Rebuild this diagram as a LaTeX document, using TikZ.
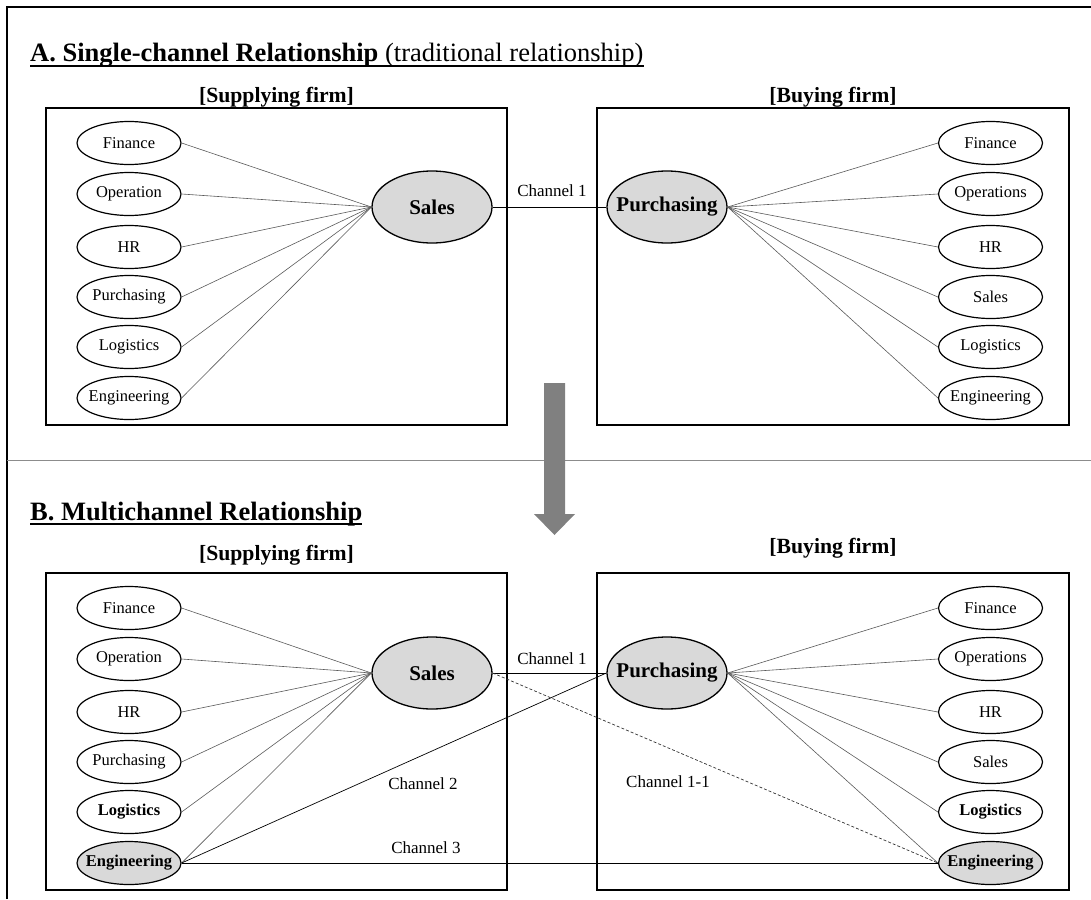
\documentclass[tikz,border=0pt]{standalone}
\usepackage{fontspec}
\setmainfont{Liberation Serif}
\usetikzlibrary{shapes.geometric}

\definecolor{keygray}{HTML}{D9D9D9}
\definecolor{linkgray}{HTML}{595959}
\definecolor{arrowgray}{HTML}{808080}
\definecolor{sepgray}{HTML}{8C8C8C}

\begin{document}
\begin{tikzpicture}[x=1pt,y=-1pt,
  dept/.style={ellipse, draw, line width=1.2pt, fill=white, minimum width=104pt,
    minimum height=43pt, inner xsep=-20pt, inner ysep=0pt, font=\fontsize{16.5}{16.5}\selectfont},
  deptkey/.style={dept, font=\fontsize{16.5}{16.5}\selectfont\bfseries},
  deptfill/.style={deptkey, fill=keygray},
  hub/.style={ellipse, draw, line width=1.3pt, fill=keygray, minimum width=120pt,
    minimum height=72pt, inner xsep=-30pt, inner ysep=0pt, font=\fontsize{21}{21}\selectfont\bfseries},
  firmbox/.style={draw, line width=1.5pt, rectangle, minimum width=461pt, minimum height=317pt, inner sep=0pt},
  firmbox2/.style={firmbox, minimum width=472pt},
  link/.style={draw=linkgray, line width=0.6pt},
  chan/.style={draw=black, line width=0.9pt},
  chandash/.style={draw=black!80, line width=0.7pt, dash pattern=on 3pt off 2pt},
  chanlabel/.style={font=\fontsize{17}{17}\selectfont},
  firmlabel/.style={anchor=base, font=\fontsize{21.7}{21.7}\selectfont\bfseries},
  title/.style={anchor=base west, inner sep=0pt, font=\fontsize{26.5}{26.5}\selectfont},
  ]
\useasboundingbox (0,0) rectangle (1091,899);

% outer frame (left and top edges)
\draw[line width=1.5pt] (7,899) -- (7,7) -- (1091,7);

% ---------- Part A ----------
\node[title] (titleA) at (30,62) {\textbf{A. Single-channel Relationship} (traditional relationship)};
\draw[line width=1.4pt] ([yshift=-4pt]titleA.base west) -- ([yshift=-4pt]titleA.base east);

\node[firmlabel] (supLabA) at (276.5,102) {[Supplying firm]};
\node[firmlabel] (buyLabA) at (833,102) {[Buying firm]};

\node[firmbox] (supA) at (276.5,266.5) {};
\node[firmbox2] (buyA) at (833,266.5) {};

\node[hub] (sA) at (432,207) {Sales};
\node[hub] (pA) at (667,207) {Purchasing};

\node[dept] (aF) at (129,143) {Finance};
\node[dept] (aO) at (129,194) {Operation};
\node[dept] (aH) at (129,247) {HR};
\node[dept] (aP) at (129,297) {Purchasing};
\node[dept] (aL) at (129,347) {Logistics};
\node[dept] (aE) at (129,398) {Engineering};

\node[dept] (bF) at (990.5,143) {Finance};
\node[dept] (bO) at (990.5,194) {Operations};
\node[dept] (bH) at (990.5,247) {HR};
\node[dept] (bS) at (990.5,297) {Sales};
\node[dept] (bL) at (990.5,347) {Logistics};
\node[dept] (bE) at (990.5,398) {Engineering};

\foreach \n in {aF,aO,aH,aP,aL,aE} \draw[link] (\n.east) -- (sA.west);
\foreach \n in {bF,bO,bH,bS,bL,bE} \draw[link] (pA.east) -- (\n.west);

\draw[chan] (sA.east) -- (pA.west);
\node[chanlabel] (c1A) at (552,191) {Channel 1};

% separator and transition arrow
\draw[sepgray, line width=1pt] (7,460) -- (1091,460);
\fill[arrowgray] (544,383) -- (565,383) -- (565,514) -- (575,514) -- (554.5,535)
  -- (534,514) -- (544,514) -- cycle;

% ---------- Part B ----------
\node[title] (titleB) at (30,520) {\textbf{B. Multichannel Relationship}};
\draw[line width=1.4pt] ([yshift=-4pt]titleB.base west) -- ([yshift=-4pt]titleB.base east);

\node[firmlabel] (supLabB) at (276.5,560) {[Supplying firm]};
\node[firmlabel] (buyLabB) at (833,553) {[Buying firm]};

\node[firmbox] (supB) at (276.5,731.5) {};
\node[firmbox2] (buyB) at (833,731.5) {};

\node[hub] (sB) at (432,673) {Sales};
\node[hub] (pB) at (667,673) {Purchasing};

\node[dept] (cF) at (129,608) {Finance};
\node[dept] (cO) at (129,659) {Operation};
\node[dept] (cH) at (129,712) {HR};
\node[dept] (cP) at (129,762) {Purchasing};
\node[deptkey] (cL) at (129,812) {Logistics};
\node[deptfill] (cE) at (129,863) {Engineering};

\node[dept] (dF) at (990.5,608) {Finance};
\node[dept] (dO) at (990.5,659) {Operations};
\node[dept] (dH) at (990.5,712) {HR};
\node[dept] (dS) at (990.5,762) {Sales};
\node[deptkey] (dL) at (990.5,812) {Logistics};
\node[deptfill] (dE) at (990.5,863) {Engineering};

\foreach \n in {cF,cO,cH,cP,cL,cE} \draw[link] (\n.east) -- (sB.west);
\foreach \n in {dF,dO,dH,dS,dL,dE} \draw[link] (pB.east) -- (\n.west);

\draw[chan] (sB.east) -- (pB.west);
\draw[chan, line width=0.7pt] (cE.east) -- (pB.west);
\draw[chan] (cE.east) -- (dE.west);
\draw[chandash] (sB.east) -- (dE.west);

\node[chanlabel] (c1B) at (552,659) {Channel 1};
\node[chanlabel] (c2B) at (423,784) {Channel 2};
\node[chanlabel] (c11B) at (668,782) {Channel 1-1};
\node[chanlabel] (c3B) at (426,848) {Channel 3};
\end{tikzpicture}
\end{document}
